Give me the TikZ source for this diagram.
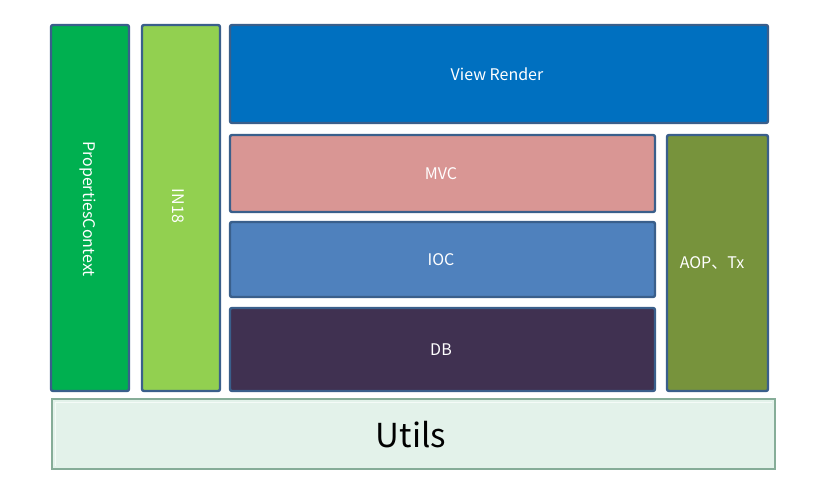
\documentclass[tikz,border=0pt]{standalone}
\usepackage{fontspec}
\setmainfont{Noto Sans CJK SC}
\definecolor{bordc}{HTML}{3A5F8B}
\definecolor{propc}{HTML}{00B050}
\definecolor{inc}{HTML}{92D050}
\definecolor{viewc}{HTML}{0070C0}
\definecolor{mvcc}{HTML}{D99694}
\definecolor{iocc}{HTML}{4F81BD}
\definecolor{dbc}{HTML}{403151}
\definecolor{aopc}{HTML}{77933C}
\definecolor{utilfill}{HTML}{E3F2EA}
\definecolor{utildraw}{HTML}{86AD98}
\definecolor{utilin}{HTML}{F4FBF7}
\tikzset{
  blk/.style={draw=bordc, line width=2.4pt, rounded corners=2pt},
  lbl/.style={text=white, font=\fontsize{16}{18}\selectfont, inner sep=0pt},
}
\begin{document}
\begin{tikzpicture}[x=1pt,y=-1pt]
\useasboundingbox (0,0) rectangle (820,483);
\fill[white] (0,0) rectangle (820,483);
% blocks
\draw[blk, fill=propc] (51,25) rectangle (129,391);
\draw[blk, fill=inc] (142,25) rectangle (220,391);
\draw[blk, fill=viewc] (230,25) rectangle (768,123);
\draw[blk, fill=mvcc] (230,135) rectangle (655,212);
\draw[blk, fill=iocc] (230,222) rectangle (655,297);
\draw[blk, fill=dbc] (230,308) rectangle (655,391);
\draw[blk, fill=aopc] (667,135) rectangle (768,391);
% utils
\draw[draw=utildraw, line width=2pt, fill=utilfill] (52,399) rectangle (775,469);
\draw[draw=utilin, line width=1pt] (55,466) -- (55,402) -- (772,402);
% labels
\node[lbl, rotate=-90] (props) at (88,209) {PropertiesContext};
\node[lbl, rotate=-90] (in18) at (178,206) {IN18};
\node[lbl] (view) at (497,74) {View Render};
\node[lbl] (mvc) at (441,174) {MVC};
\node[lbl] (ioc) at (441,260) {IOC};
\node[lbl] (db) at (441,350) {DB};
\node[lbl] (aop) at (712,263) {AOP、Tx};
\node[inner sep=0pt, font=\fontsize{33}{38}\selectfont] (utils) at (411,435) {Utils};
\end{tikzpicture}
\end{document}
